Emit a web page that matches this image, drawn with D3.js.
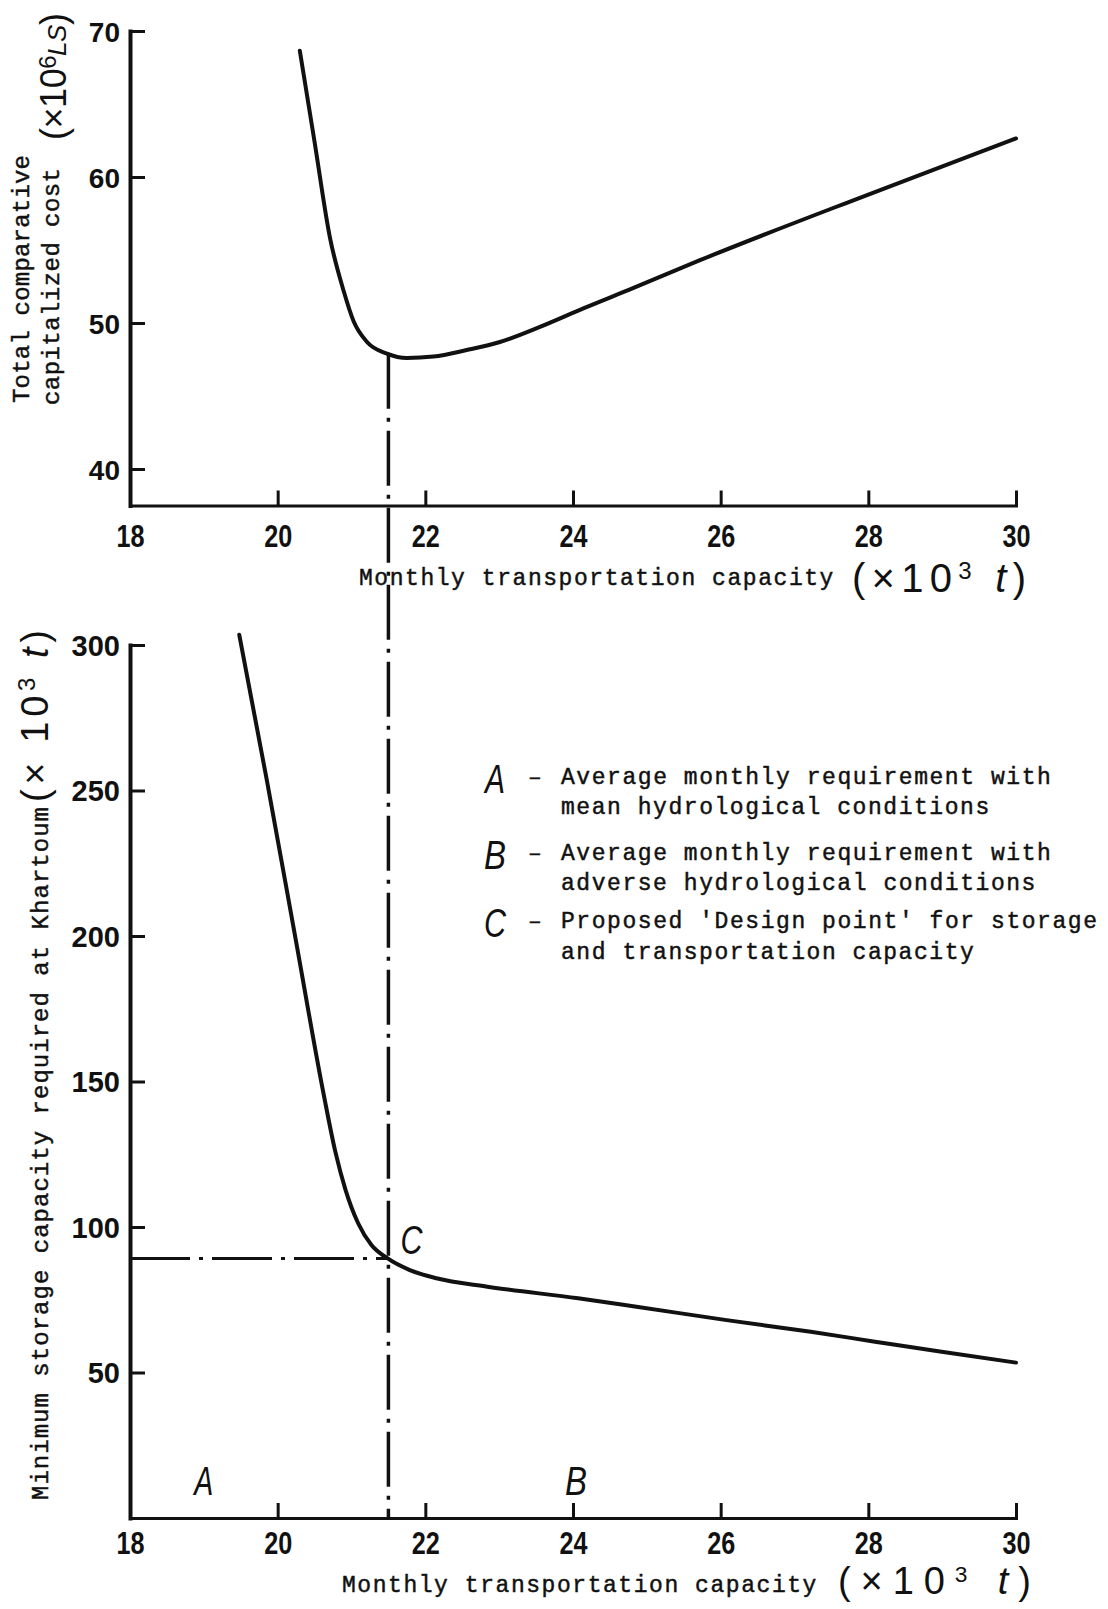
<!DOCTYPE html>
<html><head><meta charset="utf-8">
<script src="https://cdn.jsdelivr.net/npm/d3@7"></script>
<style>
body{margin:0;background:#fff}
svg text{fill:#111}
.mono{font-family:"Liberation Mono","DejaVu Sans Mono",monospace;stroke:#111;stroke-width:0.45px}
.sans{font-family:"Liberation Sans",Arial,sans-serif}
</style></head>
<body><svg id="c" width="1108" height="1609"></svg>
<script>
// ---- data ----
const xTicks = [18, 20, 22, 24, 26, 28, 30];
const topYTicks = [40, 50, 60, 70];
const botYTicks = [50, 100, 150, 200, 250, 300];

// Total comparative capitalized cost (x10^6 LS) vs monthly transportation capacity (x10^3 t)
const costX = [20.30, 20.50, 20.71, 20.89, 21.03, 21.21, 21.48, 21.75, 22.11, 22.56, 23.01, 23.56, 24.14, 24.82, 25.72, 28.0, 30.0];
const costY = [68.65, 62.4, 55.8, 52.26, 50.1, 48.7, 47.9, 47.6, 47.7, 48.15, 48.7, 49.75, 51.0, 52.4, 54.3, 58.8, 62.64];

// Minimum storage capacity required at Khartoum (x10^3 t)
const storX = [19.48, 19.85, 20.25, 20.62, 20.78, 20.92, 21.09, 21.27, 21.49, 21.79, 22.15, 22.84, 24.07, 24.86, 26.08, 27.22, 28.09, 28.97, 30.0];
const storY = [303.5, 254.0, 198.0, 146.0, 126.0, 112.7, 101.3, 93.8, 89.2, 85.2, 82.4, 79.5, 75.5, 72.6, 68.0, 64.0, 60.6, 57.2, 53.4];

const designX = 21.5, designStorage = 89.2, designCost = 47.9;
const markerLabels = ["A", "B"];
const markerX = [19, 24];
const legendKeys = ["A", "B", "C"];
const legendLine1 = ["Average monthly requirement with", "Average monthly requirement with", "Proposed 'Design point' for storage"];
const legendLine2 = ["mean hydrological conditions", "adverse hydrological conditions", "and transportation capacity"];
const xTitle = "Monthly transportation capacity";
const topYTitle1 = "Total comparative";
const topYTitle2 = "capitalized cost";
const botYTitle = "Minimum storage capacity required at Khartoum";

// ---- layout ----
const svg = d3.select("#c");
const x = d3.scaleLinear().domain([18, 30]).range([130, 1016]);
const yTop = d3.scaleLinear().domain([37.5, 70]).range([505.5, 31]);
const yBot = d3.scaleLinear().domain([0, 300]).range([1518, 645]);
const ink = "#111";
const PITCH = 15.4;

function styleAxis(g, domainW) {
  g.select(".domain").attr("stroke", ink).attr("stroke-width", domainW).attr("stroke-linecap", "square");
  g.selectAll(".tick line").attr("stroke", ink).attr("stroke-width", 3);
}

function xAxis(yPos, labelBase) {
  const g = svg.append("g").attr("transform", `translate(0,${yPos})`)
    .call(d3.axisBottom(x).tickValues(xTicks).tickSize(-15).tickSizeOuter(0).tickFormat(d3.format("d")));
  styleAxis(g, 3);
  g.selectAll(".tick").filter(d => d === 18).select("line").remove();
  g.selectAll(".tick text")
    .attr("class", "sans").attr("y", labelBase).attr("dy", 0)
    .attr("font-size", 32).attr("font-weight", "bold")
    .attr("textLength", 28).attr("lengthAdjust", "spacingAndGlyphs")
    .attr("fill", ink).attr("stroke", "none");
}

function yAxis(scale, ticks, fs) {
  const g = svg.append("g").attr("transform", `translate(${x(18)},0)`)
    .call(d3.axisLeft(scale).tickValues(ticks).tickSize(-15).tickSizeOuter(0).tickPadding(10));
  styleAxis(g, 4);
  g.selectAll(".tick text").attr("class", "sans").attr("font-size", fs).attr("font-weight", "bold")
    .attr("fill", ink).attr("dy", "0.36em");
}

// axes
xAxis(yTop(37.5), 41);
xAxis(yBot(0), 36);
yAxis(yTop, topYTicks, 28);
yAxis(yBot, botYTicks, 29);

// curves
const costData = costX.map((v, i) => [v, costY[i]]);
const storData = storX.map((v, i) => [v, storY[i]]);
svg.append("path").datum(costData)
  .attr("d", d3.line().x(d => x(d[0])).y(d => yTop(d[1])).curve(d3.curveMonotoneX))
  .attr("fill", "none").attr("stroke", ink).attr("stroke-width", 4).attr("stroke-linecap", "round");
svg.append("path").datum(storData)
  .attr("d", d3.line().x(d => x(d[0])).y(d => yBot(d[1])).curve(d3.curveMonotoneX))
  .attr("fill", "none").attr("stroke", ink).attr("stroke-width", 4).attr("stroke-linecap", "round");

// dash-dot design lines
svg.append("line")
  .attr("x1", x(designX)).attr("x2", x(designX))
  .attr("y1", yTop(designCost)).attr("y2", yBot(0))
  .attr("stroke", ink).attr("stroke-width", 3.5).attr("stroke-dasharray", "55,9,4,9");
svg.append("line")
  .attr("x1", x(18)).attr("x2", x(designX))
  .attr("y1", yBot(designStorage)).attr("y2", yBot(designStorage))
  .attr("stroke", ink).attr("stroke-width", 3).attr("stroke-dasharray", "60,9,4,9");

// letters A, B on the bottom chart, C at the design point
function bigLetter(txt, cx, base, w) {
  svg.append("text").attr("class", "sans").attr("x", cx - w / 2).attr("y", base)
    .attr("font-size", 40).attr("font-style", "italic")
    .attr("textLength", w).attr("lengthAdjust", "spacingAndGlyphs").text(txt);
}
markerLabels.forEach((m, i) => bigLetter(m, x(markerX[i]) + (i === 0 ? 0 : 3), 1495, m === "A" ? 19 : 22));
bigLetter("C", x(designX) + 23, yBot(designStorage) - 4, 22);

// legend
const legendBase1 = [784, 860, 928];
const legendBase2 = [814, 890, 959];
legendKeys.forEach((k, i) => {
  bigLetter(k, 495, legendBase1[i] + 9, k === "A" ? 20 : 22);
  svg.append("text").attr("class", "mono").attr("x", 528).attr("y", legendBase1[i])
    .attr("font-size", 23).text("–");
  svg.append("text").attr("class", "mono").attr("x", 561).attr("y", legendBase1[i])
    .attr("font-size", 23).attr("textLength", legendLine1[i].length * PITCH - 3).attr("lengthAdjust", "spacing")
    .text(legendLine1[i]);
  svg.append("text").attr("class", "mono").attr("x", 561).attr("y", legendBase2[i])
    .attr("font-size", 23).attr("textLength", legendLine2[i].length * PITCH - 3).attr("lengthAdjust", "spacing")
    .text(legendLine2[i]);
});

// x titles with units
function unitText(g, xs, base, fs, len, exp) {
  const t = g.append("text").attr("class", "sans").attr("x", xs).attr("y", base)
    .attr("font-size", fs).attr("textLength", len).attr("lengthAdjust", "spacing");
  t.append("tspan").text("(×10");
  t.append("tspan").attr("font-size", fs * 0.6).attr("dy", -fs * 0.32).text(exp);
  t.append("tspan").attr("dy", fs * 0.32).text(" ");
  t.append("tspan").attr("font-style", "italic").text("t");
  t.append("tspan").text(")");
  return t;
}
[[359, 585, 852, 592, 40, 174], [342, 1592, 838, 1594, 38, 193]].forEach(([tx, tb, ux, ub, fs, ul]) => {
  svg.append("text").attr("class", "mono").attr("x", tx).attr("y", tb)
    .attr("font-size", 23).attr("textLength", xTitle.length * PITCH - 3).attr("lengthAdjust", "spacing")
    .text(xTitle);
  unitText(svg, ux, ub, fs, ul, "3");
});

// top y title (rotated)
const gTop = svg.append("g");
gTop.append("text").attr("class", "mono").attr("transform", "translate(29,403) rotate(-90)")
  .attr("font-size", 24).attr("textLength", 248).attr("lengthAdjust", "spacing").text(topYTitle1);
gTop.append("text").attr("class", "mono").attr("transform", "translate(59,405) rotate(-90)")
  .attr("font-size", 24).attr("textLength", 237).attr("lengthAdjust", "spacing").text(topYTitle2);
const tu = gTop.append("text").attr("class", "sans").attr("transform", "translate(66,140) rotate(-90)")
  .attr("font-size", 36).attr("textLength", 127).attr("lengthAdjust", "spacing");
tu.append("tspan").text("(×10");
tu.append("tspan").attr("font-size", 24).attr("dy", -10).text("6");
tu.append("tspan").attr("font-size", 26).attr("font-style", "italic").attr("dy", 10).text("LS");
tu.append("tspan").text(")");

// bottom y title (rotated)
svg.append("text").attr("class", "mono").attr("transform", "translate(48,1500) rotate(-90)")
  .attr("font-size", 24).attr("textLength", 693).attr("lengthAdjust", "spacing").text(botYTitle);
const bu = svg.append("text").attr("class", "sans").attr("transform", "translate(48,802) rotate(-90)")
  .attr("font-size", 38).attr("textLength", 172).attr("lengthAdjust", "spacing");
bu.append("tspan").text("(× 10");
bu.append("tspan").attr("font-size", 24).attr("dy", -13).text("3");
bu.append("tspan").attr("dy", 13).text(" ");
bu.append("tspan").attr("font-style", "italic").text("t");
bu.append("tspan").text(")");
</script>
</body></html>
